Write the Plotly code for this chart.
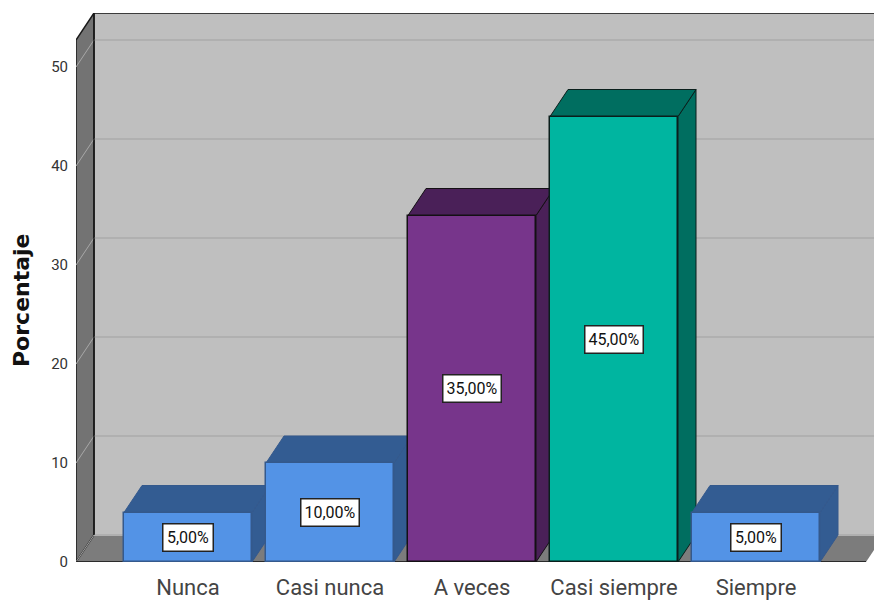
import plotly.graph_objects as go

categories = ["Nunca", "Casi nunca", "A veces", "Casi siempre", "Siempre"]
percentages = [5, 10, 35, 45, 5]
value_labels = ["5,00%", "10,00%", "35,00%", "45,00%", "5,00%"]
y_ticks = [0, 10, 20, 30, 40, 50]

front_colors = ["#5393E6", "#5393E6", "#77358B", "#00B5A0", "#5393E6"]
shade_colors = ["#335C92", "#335C92", "#4A2058", "#006E60", "#335C92"]
edge_colors = ["#34598C", "#34598C", "#141014", "#0A1F1C", "#34598C"]
label_widths = [47, 55, 55, 55, 47]

# Chart box geometry, in axis units
UNIT_X = 142
UNIT_Y = 9.9
BAR_WIDTH = 128 / UNIT_X
DEPTH_X = 18 / UNIT_X
DEPTH_Y = 27 / UNIT_Y
X_MIN = (76 - 188) / UNIT_X
X_MAX = (874 - 188) / UNIT_X
FLOOR_RIGHT = (866 - 188) / UNIT_X
FULL_Y = 549 / UNIT_Y
WALL_TOP = FULL_Y - DEPTH_Y
TEXT_FONT = "Roboto, Arial, sans-serif"

fig = go.Figure()


def polygon(xs, ys, fill, line_color, line_width):
    fig.add_trace(go.Scatter(
        x=xs + xs[:1], y=ys + ys[:1], mode="lines", fill="toself",
        fillcolor=fill, line=dict(color=line_color, width=line_width),
        hoverinfo="skip", showlegend=False, cliponaxis=False,
    ))


def segment(xs, ys, color, width):
    fig.add_trace(go.Scatter(
        x=xs, y=ys, mode="lines", line=dict(color=color, width=width),
        hoverinfo="skip", showlegend=False, cliponaxis=False,
    ))


# Back wall, floor and left wall of the box
polygon([X_MIN + DEPTH_X, FLOOR_RIGHT + 2 * DEPTH_X, FLOOR_RIGHT + 2 * DEPTH_X, X_MIN + DEPTH_X],
        [DEPTH_Y, DEPTH_Y, WALL_TOP + DEPTH_Y, WALL_TOP + DEPTH_Y],
        "#BFBFBF", "#BFBFBF", 0)
polygon([X_MIN, FLOOR_RIGHT, FLOOR_RIGHT + DEPTH_X, X_MIN + DEPTH_X],
        [0, 0, DEPTH_Y, DEPTH_Y], "#7C7C7C", "#7C7C7C", 0)
polygon([X_MIN, X_MIN + DEPTH_X, X_MIN + DEPTH_X, X_MIN],
        [0, DEPTH_Y, WALL_TOP + DEPTH_Y, WALL_TOP],
        "#737373", "#1A1A1A", 1.5)

# Gridlines wrap from the left wall onto the back wall
for tick in y_ticks:
    segment([X_MIN, X_MIN + DEPTH_X], [tick, tick + DEPTH_Y], "#A8A8A8", 1)
    segment([X_MIN + DEPTH_X, X_MAX + DEPTH_X], [tick + DEPTH_Y, tick + DEPTH_Y], "#B0B0B0", 2)

segment([X_MIN + DEPTH_X, X_MAX + DEPTH_X], [WALL_TOP + DEPTH_Y] * 2, "#111111", 1.5)
segment([X_MIN + DEPTH_X, X_MIN + DEPTH_X], [DEPTH_Y, WALL_TOP + DEPTH_Y], "#1A1A1A", 1.5)
segment([X_MIN, FLOOR_RIGHT], [0, 0], "#111111", 1.5)

# Side and top faces of every bar, left to right
for i, value in enumerate(percentages):
    left, right = i - BAR_WIDTH / 2, i + BAR_WIDTH / 2
    polygon([right, right + DEPTH_X, right + DEPTH_X, right],
            [0, DEPTH_Y, value + DEPTH_Y, value],
            shade_colors[i], edge_colors[i], 1)
    polygon([left, right, right + DEPTH_X, left + DEPTH_X],
            [value, value, value + DEPTH_Y, value + DEPTH_Y],
            shade_colors[i], edge_colors[i], 1)

# Front faces sit on an overlaying subplot so they cover neighbouring side faces
fig.add_trace(go.Bar(
    x=list(range(len(categories))), y=percentages, width=BAR_WIDTH,
    marker=dict(color=front_colors, line=dict(color=edge_colors, width=1.5)),
    xaxis="x2", yaxis="y2", showlegend=False, hoverinfo="skip",
))

for i, value in enumerate(percentages):
    fig.add_annotation(
        x=i, y=value / 2, xref="x2", yref="y2", text=value_labels[i], showarrow=False,
        font=dict(family=TEXT_FONT, size=16, color="#111111"),
        width=label_widths[i], height=24, align="center", valign="middle",
        bgcolor="white", bordercolor="#222222", borderwidth=1.5, borderpad=1,
    )

# Axis title, centred on the full height of the drawing
fig.add_annotation(
    x=(21 - 76) / 798, y=(562 - 300) / 549, xref="paper", yref="paper", text="Porcentaje",
    textangle=-90, showarrow=False, xanchor="center", yanchor="middle",
    font=dict(family="DejaVu Sans, sans-serif", size=22, color="#111111", weight="bold"),
)

fig.update_layout(
    width=874, height=601, autosize=False,
    margin=dict(l=76, r=0, t=13, b=39),
    paper_bgcolor="white", plot_bgcolor="white", bargap=0,
    xaxis=dict(
        range=[X_MIN, X_MAX], tickmode="array", tickvals=list(range(len(categories))),
        ticktext=categories, ticks="", showgrid=False, zeroline=False, showline=False,
        tickfont=dict(family=TEXT_FONT, size=22, color="#444444"), ticklabelstandoff=10,
    ),
    yaxis=dict(
        range=[0, FULL_Y], tickmode="array", tickvals=y_ticks, ticks="",
        showgrid=False, zeroline=False, showline=False,
        tickfont=dict(family=TEXT_FONT, size=15, color="#333333"), ticklabelstandoff=7,
    ),
    xaxis2=dict(range=[X_MIN, X_MAX], overlaying="x", visible=False),
    yaxis2=dict(range=[0, FULL_Y], overlaying="y", visible=False),
)

fig.write_html("out.html")
